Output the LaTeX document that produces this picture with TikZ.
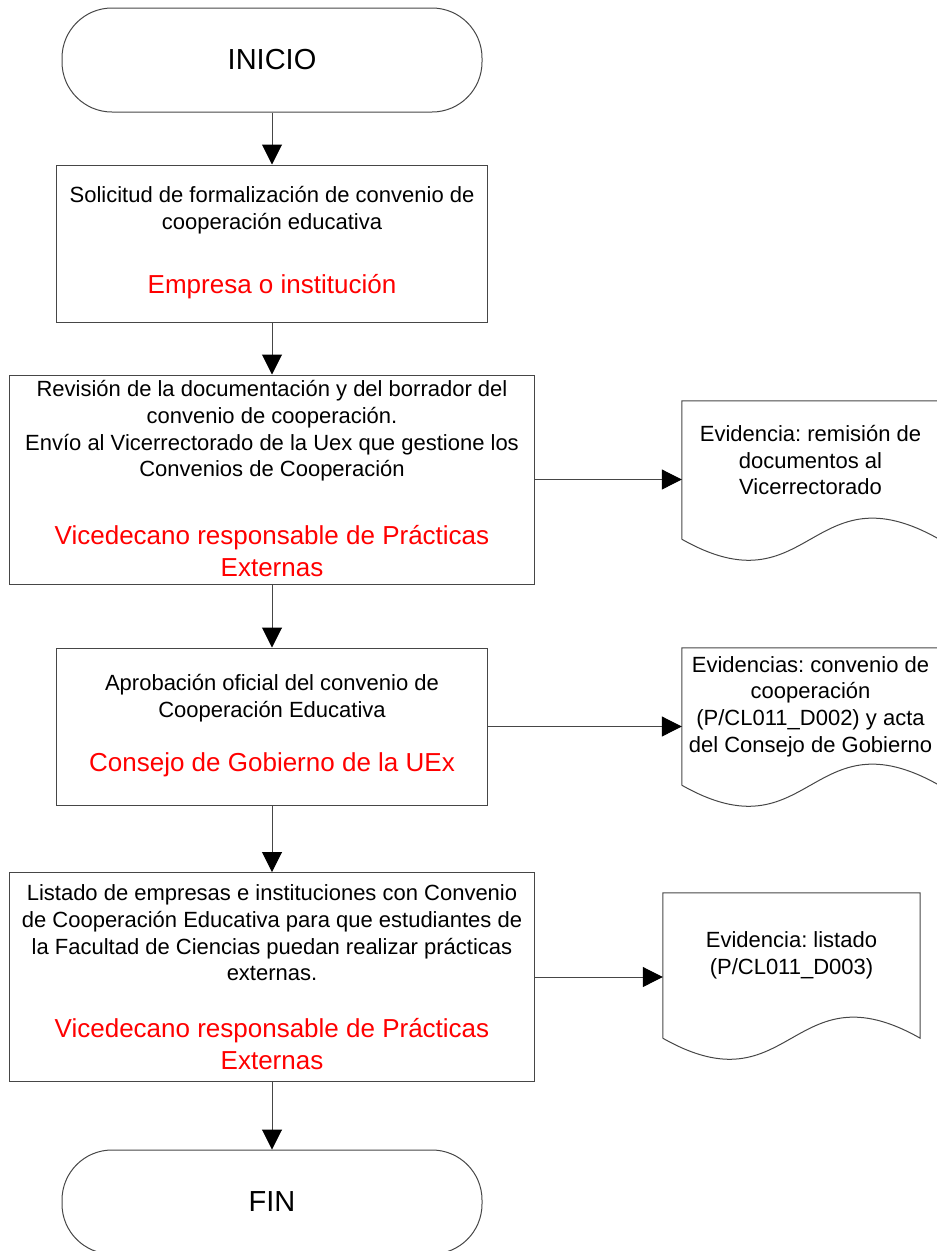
\documentclass[tikz,border=0pt]{standalone}
\usepackage{fontspec}
\setmainfont{Liberation Sans}
\usetikzlibrary{arrows.meta}
\definecolor{linegray}{RGB}{70,70,70}
\frenchspacing
\newcommand{\docoutline}[1]{\draw[linegray, line width=1pt] ([yshift=-20pt]#1.south west) -- (#1.north west) -- (#1.north east) -- ([yshift=-20pt]#1.south east) .. controls ([yshift=53pt]#1.south) and ([yshift=-93pt]#1.south) .. ([yshift=-20pt]#1.south west);}

\begin{document}
\begin{tikzpicture}[x=1pt,y=-1pt,
  every node/.style={inner sep=0pt, align=center, font=\fontsize{22}{26.7}\selectfont},
  terminal/.style={draw=linegray, line width=1pt, rounded corners=50pt, minimum width=420pt, minimum height=104pt, font=\fontsize{29}{35}\selectfont},
  narrowbox/.style={draw=linegray, line width=1pt, minimum width=431pt, minimum height=157pt},
  widebox/.style={draw=linegray, line width=1pt, minimum width=525pt, minimum height=209pt},
  who/.style={text=red, font=\fontsize{26}{31.5}\selectfont},
  doc/.style={minimum width=257pt},
  flow/.style={draw=linegray, line width=1pt, -{Triangle[length=20pt,width=20pt,color=black]}}
]
\useasboundingbox (0,0) rectangle (937,1251);
\node[terminal] (ini) at (272,60) {INICIO};
\node[narrowbox] (b1) at (272,243.5) {};
\node (b1txt) at (272,210) {Solicitud de formalización de convenio de\\cooperación educativa};
\node[who] (b1who) at (272,287) {Empresa o institución};
\node[widebox] (b2) at (272,479.5) {};
\node (b2txt) at (272,431) {Revisión de la documentación y del borrador del\\convenio de cooperación.\\Envío al Vicerrectorado de la Uex que gestione los\\Convenios de Cooperación};
\node[who] (b2who) at (272,551) {Vicedecano responsable de Prácticas\\Externas};
\node[narrowbox] (b3) at (272,726.5) {};
\node (b3txt) at (272,698.5) {Aprobación oficial del convenio de\\Cooperación Educativa};
\node[who] (b3who) at (272,765) {Consejo de Gobierno de la UEx};
\node[widebox] (b4) at (272,977) {};
\node (b4txt) at (272,933) {Listado de empresas e instituciones con Convenio\\de Cooperación Educativa para que estudiantes de\\la Facultad de Ciencias puedan realizar prácticas\\externas.};
\node[who] (b4who) at (272,1044) {Vicedecano responsable de Prácticas\\Externas};
\node[terminal] (fin) at (272,1202) {FIN};
\node[doc, minimum height=118pt] (d1) at (810.5,460) {Evidencia: remisión de\\documentos al\\Vicerrectorado};
\docoutline{d1}
\node[doc, minimum height=117pt] (d2) at (810.5,706.5) {Evidencias: convenio de\\cooperación\\(P/CL011\_D002) y acta\\del Consejo de Gobierno};
\docoutline{d2}
\node[doc, minimum height=125pt] (d3) at (791.5,955.5) {Evidencia: listado\\(P/CL011\_D003)};
\docoutline{d3}
\draw[flow] (ini.south) -- (b1.north);
\draw[flow] (b1.south) -- (b2.north);
\draw[flow] (b2.south) -- (b3.north);
\draw[flow] (b3.south) -- (b4.north);
\draw[flow] (b4.south) -- (fin.north);
\draw[flow] (b2.east) -- (b2.east -| d1.west);
\draw[flow] (b3.east) -- (b3.east -| d2.west);
\draw[flow] (b4.east) -- (b4.east -| d3.west);
\end{tikzpicture}
\end{document}
